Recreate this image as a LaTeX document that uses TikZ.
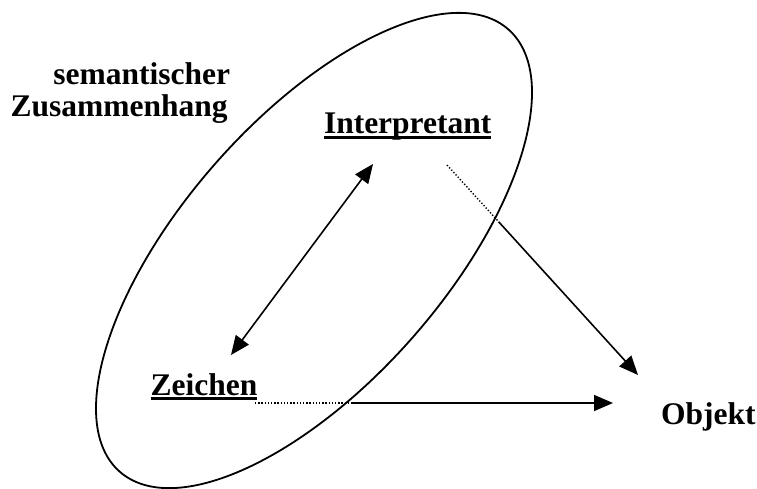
\documentclass[tikz,border=0pt]{standalone}
\usepackage{fontspec}
\setmainfont{Liberation Serif}
\usetikzlibrary{arrows.meta,calc}
\begin{document}
\begin{tikzpicture}[x=1pt,y=1pt,
  lbl/.style={inner sep=0pt,outer sep=0pt,font=\fontsize{31.5}{32}\selectfont\bfseries},
  ul/.style={line width=3.5pt},
  conn/.style={line width=1.6pt},
  dots/.style={line width=1.4pt,dash pattern=on 1.3pt off 1.9pt},
  tip/.style={-{Triangle[length=19pt,width=16pt]}},
  tips/.style={{Triangle[length=19pt,width=16pt]}-{Triangle[length=19pt,width=16pt]}}]
\useasboundingbox (0,0) rectangle (757,488);
% semantic context ellipse
\draw[line width=1.8pt, rotate around={48.7:(314,237.5)}] (314,237.5) ellipse [x radius=294.4pt, y radius=131.5pt];
% labels
\node[lbl,anchor=base east] (sem) at (230,403) {semantischer};
\node[lbl,anchor=base west] (zus) at (10.7,371) {Zusammenhang};
\node[lbl,anchor=base west] (interp) at (324,354) {Interpretant};
\node[lbl,anchor=base west] (zeichen) at (150.7,93) {Zeichen};
\node[lbl,anchor=base west] (objekt) at (661,64) {Objekt};
% underlines
\draw[ul] ([yshift=-3.5pt]interp.base west) -- ([yshift=-3.5pt]interp.base east);
\draw[ul] ([yshift=-3.5pt]zeichen.base west) -- ([yshift=-3.5pt]zeichen.base east);
% connector points
\coordinate (dZ) at (231,133);
\coordinate (dI) at (373,324);
\coordinate (iS) at (447,323);
\coordinate (iT) at (638,113);
\coordinate (iC) at ($(iS)!0.27!(iT)$);
\coordinate (zS) at (255,85);
\coordinate (zC) at (352,85);
\coordinate (zT) at (613,85);
% Zeichen <-> Interpretant
\draw[conn,tips] (dZ) -- (dI);
% Interpretant -> Objekt
\draw[dots] (iS) -- (iC);
\draw[conn,tip] (iC) -- (iT);
% Zeichen -> Objekt
\draw[dots] (zS) -- (zC);
\draw[conn,tip] (zC) -- (zT);
\end{tikzpicture}
\end{document}
